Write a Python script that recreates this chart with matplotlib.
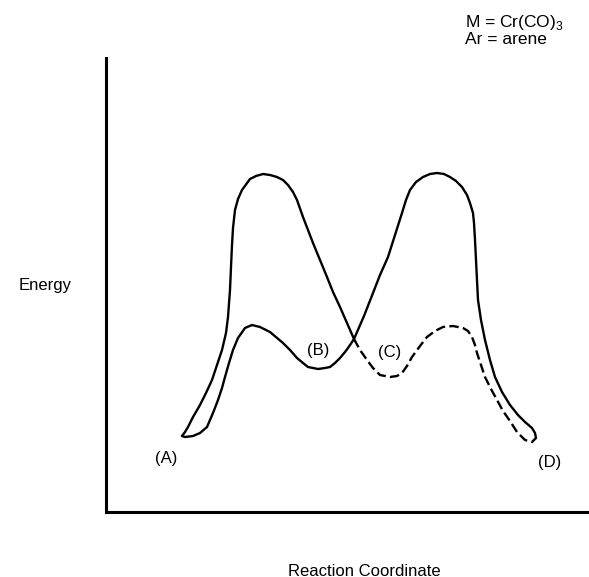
import matplotlib
matplotlib.use("Agg")
import matplotlib.pyplot as plt

plt.rcParams['font.family'] = ['Liberation Sans', 'DejaVu Sans']
plt.rcParams['mathtext.fontset'] = 'custom'
plt.rcParams['mathtext.rm'] = 'Liberation Sans'

# reaction coordinate / energy (arbitrary units)
# upper path on the left: (A) -> big barrier -> crossing
left_rc = [76, 79, 82, 87, 94, 100, 106, 111, 116, 120, 122, 124, 125, 126, 127, 129, 132, 136,
           144, 150, 157, 164, 171, 177, 182, 187, 191, 197, 202, 207, 214, 221, 227, 234, 241, 248]
left_E = [76, 80, 85, 95, 107, 119, 132, 147, 162, 179, 195, 222, 245, 267, 284, 302, 313, 322,
          333, 336, 338, 337, 335, 332, 327, 320, 312, 295, 282, 269, 252, 235, 220, 205, 189, 173]

# lower path: (A) -> small barrier -> (B) -> crossing
low_rc = [76, 79, 87, 94, 101, 107, 112, 116, 119, 123, 127, 132, 139, 146, 154, 164, 177, 184,
          191, 197, 202, 212, 219, 224, 229, 234, 239, 242, 248]
low_E = [76, 75, 76, 79, 85, 99, 112, 124, 135, 149, 162, 174, 184, 187, 185, 180, 169, 162,
         154, 149, 145, 143, 144, 145, 149, 154, 160, 164, 173]

# dashed path: crossing -> (C) -> small barrier -> (D)
dash_rc = [248, 254, 261, 267, 274, 284, 291, 296, 301, 306, 314, 321, 329, 337, 347, 357, 362,
           366, 369, 371, 375, 379, 385, 391, 397, 404, 411, 419, 426, 430]
dash_E = [173, 162, 152, 144, 137, 135, 136, 139, 146, 155, 166, 175, 181, 185, 186, 184, 181,
          175, 167, 159, 147, 135, 123, 112, 101, 91, 80, 72, 70, 74]

# upper path on the right: crossing -> big barrier -> (D)
right_rc = [248, 258, 267, 274, 282, 289, 296, 300, 304, 310, 317, 324, 331, 338, 344, 350, 356,
            361, 364, 367, 368, 369, 370, 371, 372, 375, 379, 384, 389, 396, 404, 412, 419, 426,
            429, 430]
right_E = [173, 196, 219, 237, 255, 277, 299, 312, 322, 330, 335, 338, 339, 338, 335, 331, 325,
           317, 309, 299, 289, 272, 252, 232, 212, 192, 172, 152, 135, 120, 107, 97, 90, 84,
           79, 74]

labels = ['(A)', '(B)', '(C)', '(D)']
label_rc = [60, 212, 284, 444]
label_E = [54, 162, 159, 50]

fig = plt.figure(figsize=(5.89, 5.77), dpi=100)
ax = fig.add_axes([106 / 589, 65 / 577, 483 / 589, 454 / 577])

lw = 1.7
ax.plot(left_rc, left_E, color='black', lw=lw, solid_joinstyle='round', solid_capstyle='round')
ax.plot(low_rc, low_E, color='black', lw=lw, solid_joinstyle='round', solid_capstyle='round')
ax.plot(right_rc, right_E, color='black', lw=lw, solid_joinstyle='round', solid_capstyle='round')
ax.plot(dash_rc, dash_E, color='black', lw=lw, linestyle=(0, (4, 1.8)))

for lab, x, y in zip(labels, label_rc, label_E):
    ax.text(x, y, lab, fontsize=12, ha='center', va='center')

ax.set_xlim(0, 483)
ax.set_ylim(0, 454)
ax.set_xticks([])
ax.set_yticks([])
for s in ['top', 'right']:
    ax.spines[s].set_visible(False)
for s in ['left', 'bottom']:
    ax.spines[s].set_linewidth(2.2)

fig.text(45 / 589, 1 - 285 / 577, 'Energy', fontsize=12, ha='center', va='center')
fig.text(364 / 589, 1 - 571 / 577, 'Reaction Coordinate', fontsize=12, ha='center', va='center')
fig.text(465 / 589, 1 - 22 / 577, r'M = Cr(CO)$_3$', fontsize=12.5, ha='left', va='center')
fig.text(465 / 589, 1 - 40 / 577, 'Ar = arene', fontsize=12.5, ha='left', va='center')

fig.savefig('out.png', dpi=100)
